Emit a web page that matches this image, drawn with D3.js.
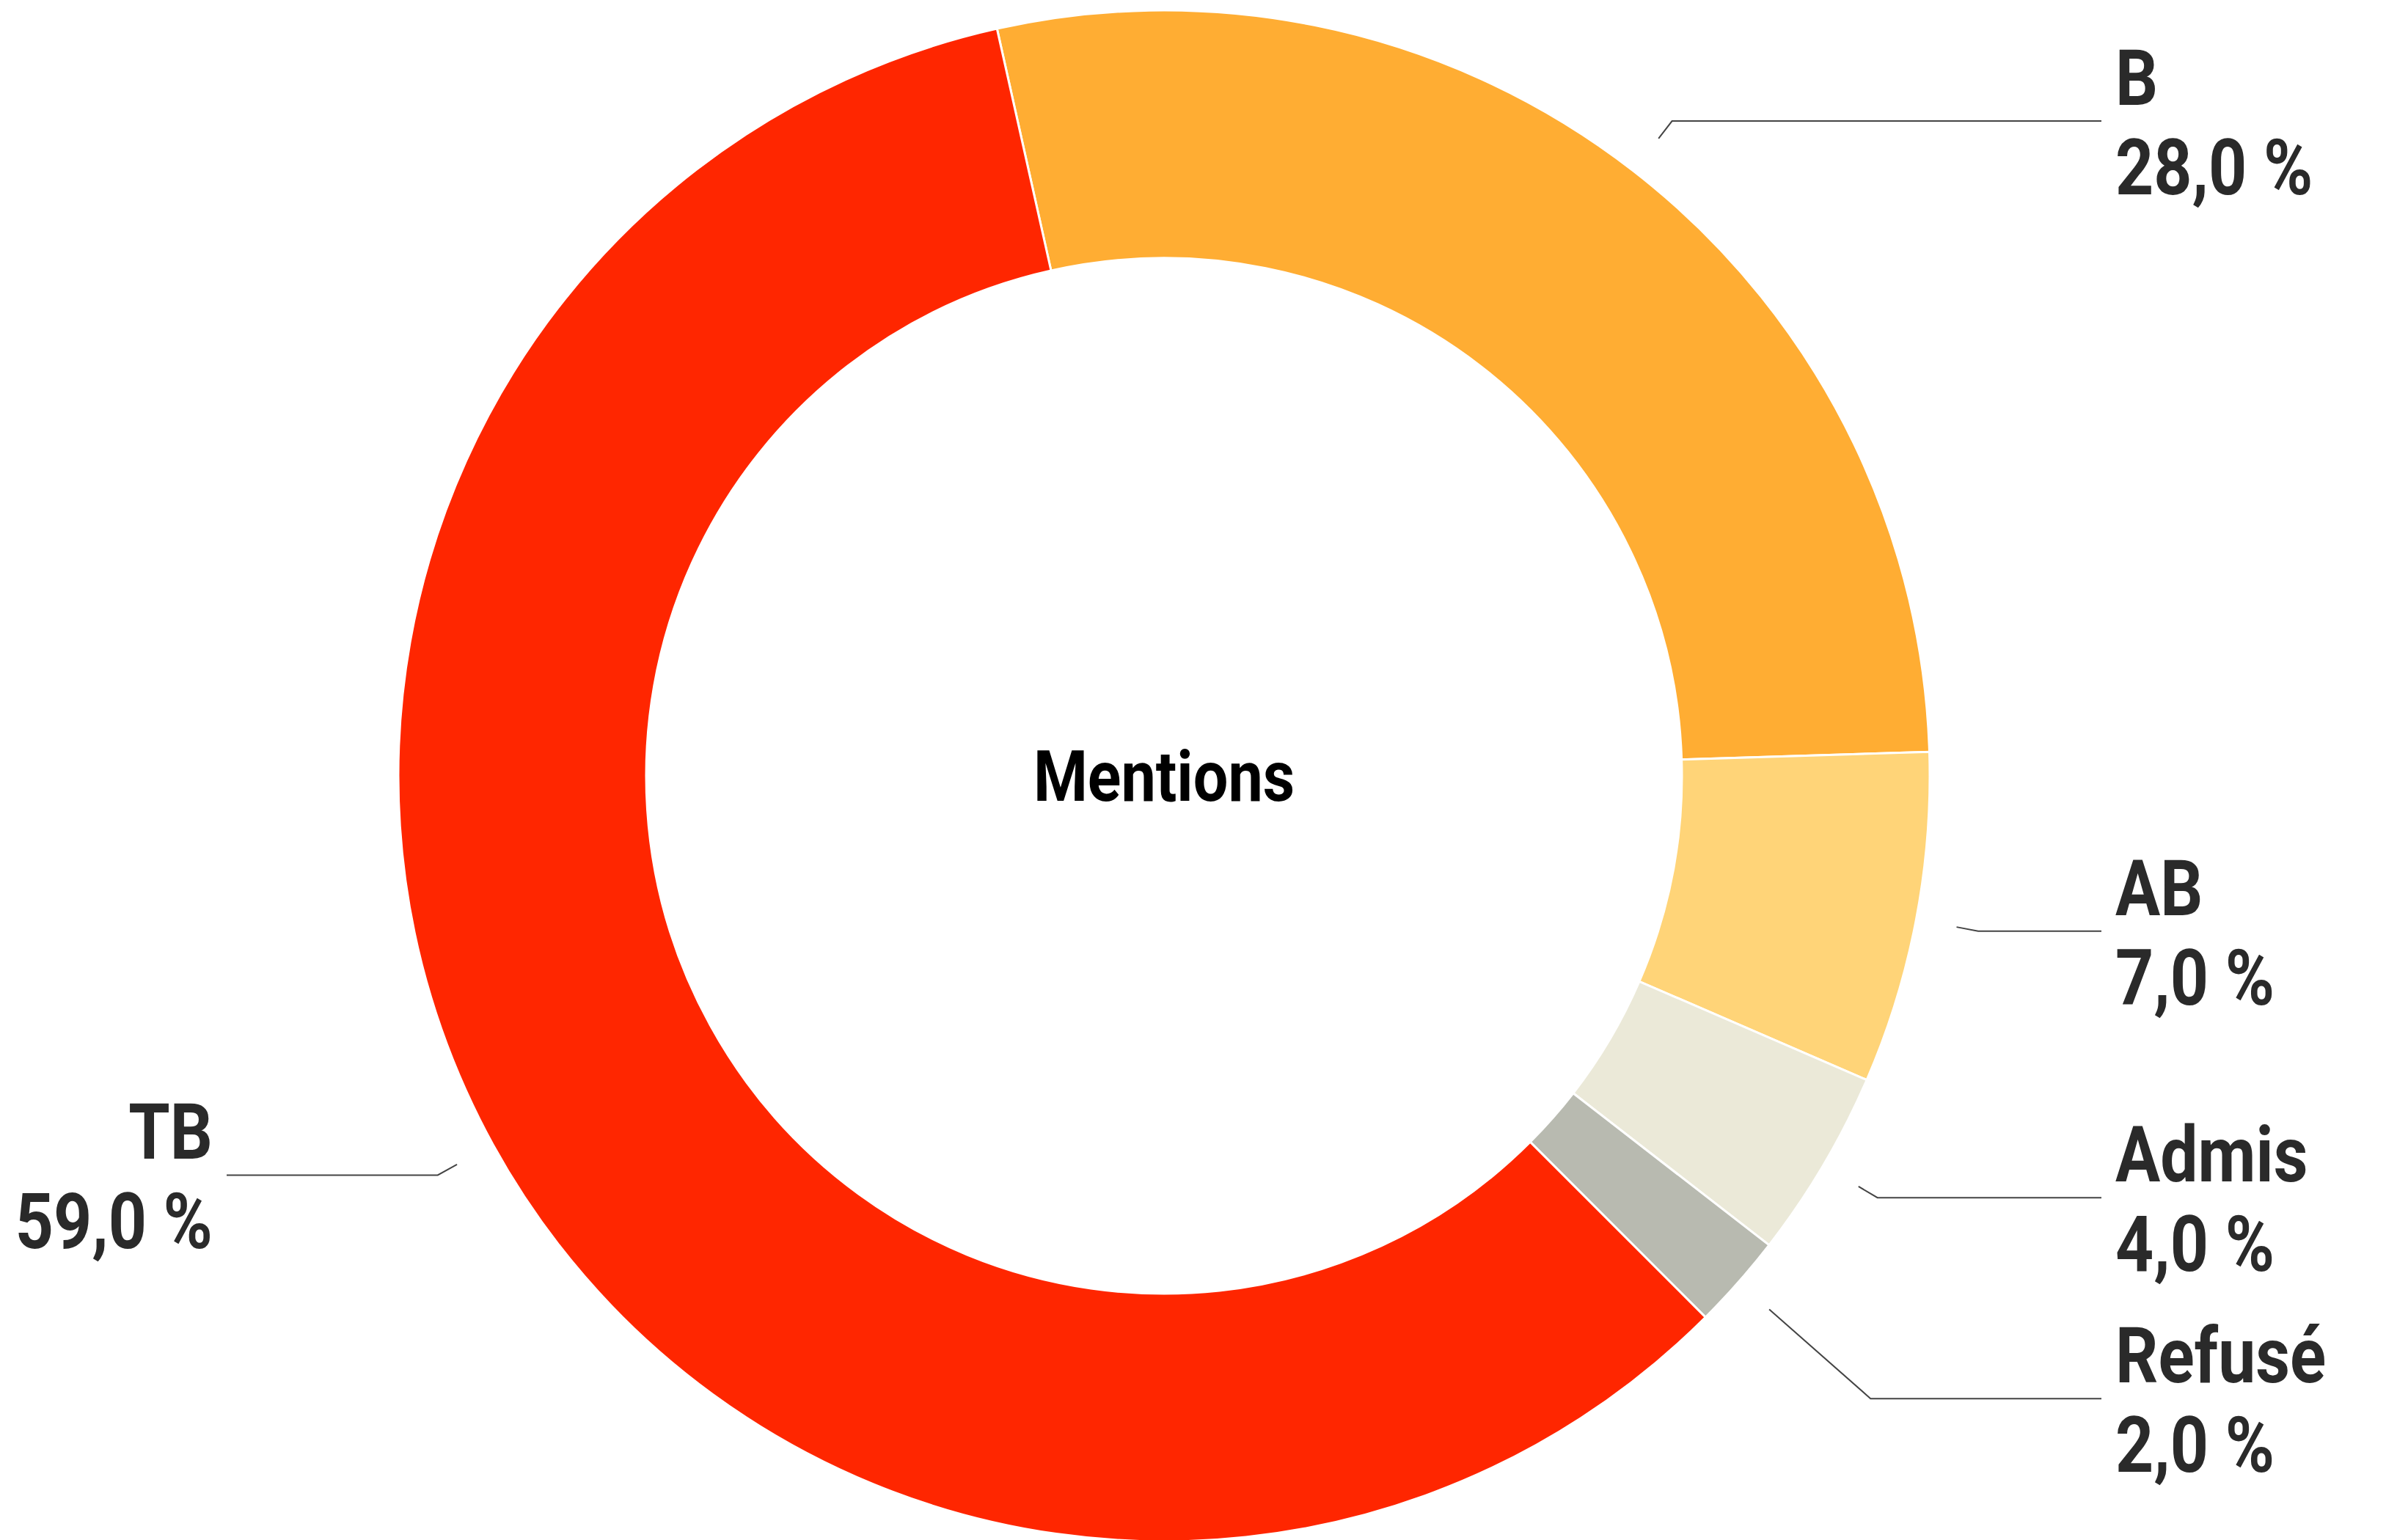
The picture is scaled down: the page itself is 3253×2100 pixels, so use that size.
<!DOCTYPE html>
<html>
<head>
<meta charset="utf-8">
<script src="https://cdn.jsdelivr.net/npm/d3@7"></script>
<style>
  body { margin: 0; background: #fff; }
  text { font-family: Roboto, "Noto Sans", sans-serif; }
</style>
</head>
<body>
<div id="chart"></div>
<script>
// data
var categories = ["B", "AB", "Admis", "Refusé", "TB"];
var values = [28, 7, 4, 2, 59];
var colors = ["#ffad33", "#ffd478", "#ebe9d8", "#b8bab0", "#ff2600"];
var title = "Mentions";

var width = 3253, height = 2100;
var cx = 1587, cy = 1058;
var outerR = 1044, innerR = 706;
var squeeze = 0.86; // narrow the font a bit, the original face is condensed

var svg = d3.select("#chart")
    .append("svg")
        .attr("width", width)
        .attr("height", height)
    .append("g")
        .attr("transform", "translate(" + cx + "," + cy + ")");

var data = categories.map(function(c, i){ return {name: c, value: values[i], color: colors[i]}; });

//pie layout
var startA = -12.6 * Math.PI / 180;
var pie = d3.pie()
    .sort(null)
    .value(function(d){ return d.value; })
    .startAngle(startA)
    .endAngle(startA + 2 * Math.PI);

var arc = d3.arc()
    .innerRadius(innerR)
    .outerRadius(outerR);

var arcs = pie(data);

svg.append("g")
    .selectAll("path")
    .data(arcs)
    .enter()
    .append("path")
        .attr("d", arc)
        .attr("fill", function(d){ return d.data.color; })
        .attr("stroke", "#fff")
        .attr("stroke-width", 3);

//center title
svg.append("text")
    .attr("transform", "translate(0,34) scale(0.88,1)")
    .attr("text-anchor", "middle")
    .attr("font-size", "96px")
    .attr("font-weight", 700)
    .attr("fill", "#000")
    .text(title);

//label placement
var r1 = 1100, r2 = 1130, minGap = 274;
var labels = arcs.map(function(d){
    var a = (d.startAngle + d.endAngle) / 2;
    var sx = Math.sin(a) * r1, sy = -Math.cos(a) * r1;
    var ex = Math.sin(a) * r2, ey = -Math.cos(a) * r2;
    return {d: d, a: a, sx: sx, sy: sy, ex: ex, ey: ey, y: ey, right: Math.sin(a) >= 0};
});

// push overlapping labels down, per side
[true, false].forEach(function(side){
    var grp = labels.filter(function(l){ return l.right === side; })
        .sort(function(a, b){ return a.y - b.y; });
    for (var i = 1; i < grp.length; i++) {
        if (grp[i].y - grp[i-1].y < minGap) grp[i].y = grp[i-1].y + minGap;
    }
});

labels.forEach(function(l){
    // pushed label: slide the elbow further along the ray
    if (l.y !== l.ey) {
        var t = (l.y - l.sy) / (l.ey - l.sy);
        l.ex = l.sx + (l.ex - l.sx) * t;
    }
    l.ey = l.y;
});

var lineEnd = 1278, textX = 1297;
var fmt = function(v){ return v.toFixed(1).replace(".", ",") + " %"; };

svg.append("g")
    .selectAll("path")
    .data(labels)
    .enter()
    .append("path")
        .attr("d", function(l){
            var endX = l.right ? lineEnd : -lineEnd;
            return "M" + l.sx + "," + l.sy + "L" + l.ex + "," + l.ey + "L" + endX + "," + l.ey;
        })
        .attr("fill", "none")
        .attr("stroke", "#444")
        .attr("stroke-width", 2);

var tg = svg.append("g")
    .selectAll("g")
    .data(labels)
    .enter()
    .append("g")
        .attr("transform", function(l){
            return "translate(" + (l.right ? textX : -textX) + "," + l.y + ") scale(" + squeeze + ",1)";
        })
        .attr("text-anchor", function(l){ return l.right ? "start" : "end"; })
        .attr("font-size", "106px")
        .attr("font-weight", 700)
        .attr("fill", "#2a2a2a");

tg.append("text")
    .attr("y", -22)
    .text(function(l){ return l.d.data.name; });

tg.append("text")
    .attr("y", 100)
    .text(function(l){ return fmt(l.d.data.value); });
</script>
</body>
</html>
